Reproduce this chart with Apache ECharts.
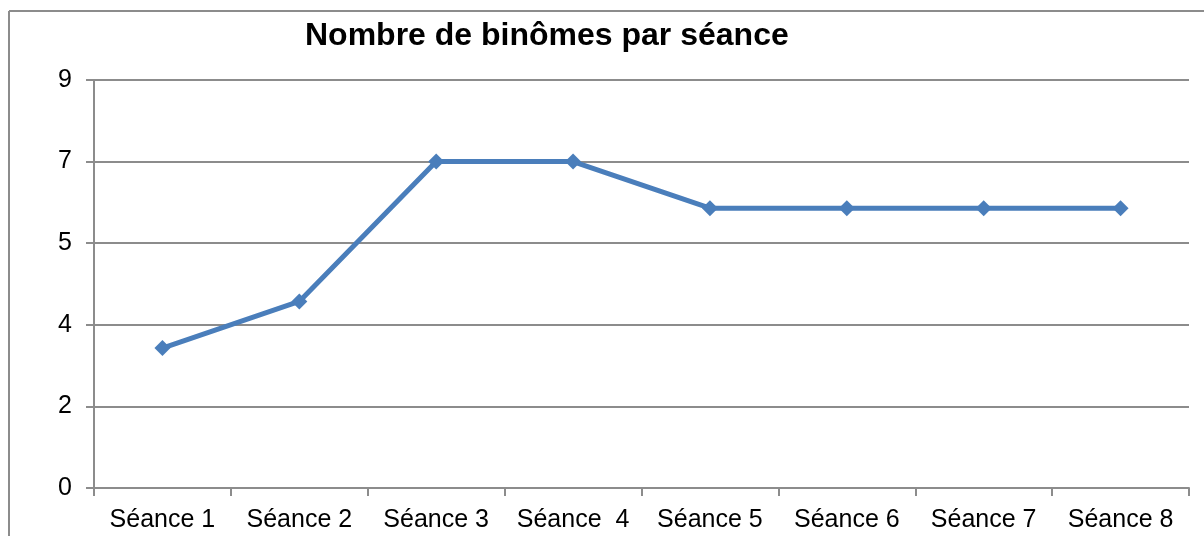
<!DOCTYPE html>
<html>
<head>
<meta charset="utf-8">
<script src="https://cdn.jsdelivr.net/npm/echarts@6/dist/echarts.min.js"></script>
<style>
  html, body { margin: 0; padding: 0; background: #fff; }
  #chart { width: 1204px; height: 536px; }
</style>
</head>
<body>
<div id="chart"></div>
<script>
var seances = ["Séance 1", "Séance 2", "Séance 3", "Séance  4", "Séance 5", "Séance 6", "Séance 7", "Séance 8"]
var binomes = [3, 4, 7, 7, 6, 6, 6, 6]
// axe Y façon Excel : pas de 1.75, étiquettes arrondies
var yMax = 8.75
var yStep = 1.75

var gris = "#8c8c8c"
var police = "Liberation Sans, Arial, sans-serif"
var chart = echarts.init(document.getElementById("chart"))
chart.setOption({
  animation: false,
  backgroundColor: "#fff",
  textStyle: { fontFamily: police },
  title: {
    text: "Nombre de binômes par séance",
    left: 300, top: 15,
    textStyle: { fontSize: 32, fontWeight: "bold", color: "#000", fontFamily: police }
  },
  graphic: [
    { type: "line", shape: { x1: 9, y1: 11, x2: 1204, y2: 11 }, style: { stroke: gris, lineWidth: 2 } },
    { type: "line", shape: { x1: 9, y1: 11, x2: 9, y2: 536 }, style: { stroke: gris, lineWidth: 2 } }
  ],
  grid: { left: 94, right: 15, top: 80, bottom: 48 },
  xAxis: {
    type: "category",
    data: seances,
    boundaryGap: true,
    axisLine: { lineStyle: { color: gris, width: 2 } },
    axisTick: { show: true, length: 8, lineStyle: { color: gris, width: 2 } },
    axisLabel: { color: "#000", fontSize: 25, margin: 20, interval: 0 }
  },
  yAxis: {
    type: "value",
    min: 0, max: yMax, interval: yStep,
    axisLine: { show: true, lineStyle: { color: gris, width: 2 } },
    axisTick: { show: true, length: 8, lineStyle: { color: gris, width: 2 } },
    splitLine: { lineStyle: { color: gris, width: 2 } },
    axisLabel: {
      color: "#000", fontSize: 25, margin: 22,
      formatter: function (v) { return Math.round(v) }
    }
  },
  series: [{
    type: "line",
    data: binomes,
    symbol: "diamond",
    symbolSize: 16,
    lineStyle: { color: "#4a7ebb", width: 5 },
    itemStyle: { color: "#4a7ebb" }
  }]
})
</script>
</body>
</html>
